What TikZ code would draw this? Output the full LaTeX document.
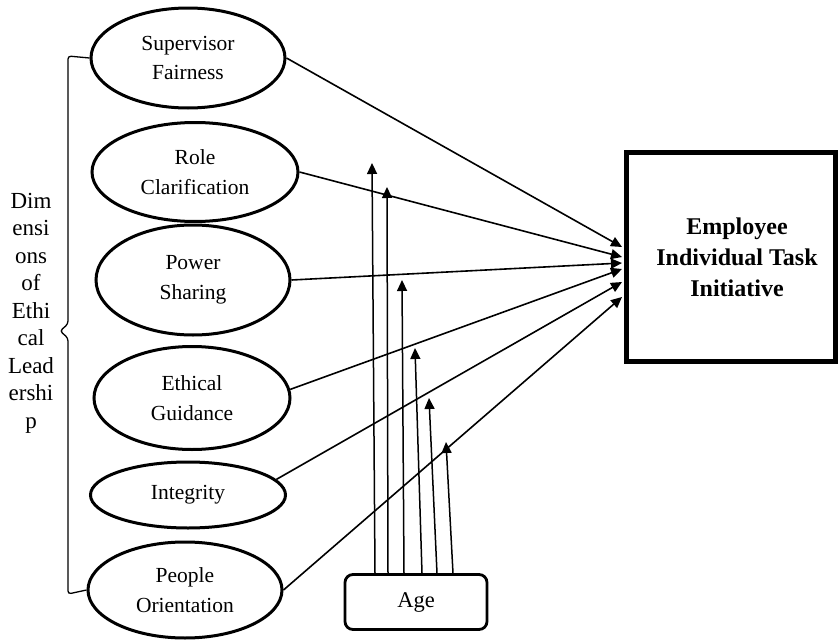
\documentclass[tikz,border=0pt]{standalone}
\usepackage{fontspec}
\setmainfont{Liberation Serif}
\usetikzlibrary{shapes.geometric,arrows.meta}

\begin{document}
\begin{tikzpicture}[x=1pt,y=-1pt,>={Triangle[length=11pt,width=10pt]},
   dimen/.style={draw,ellipse,line width=3pt,inner sep=0pt,align=center,
     font=\fontsize{21.5}{29.5}\selectfont},
   link/.style={->,line width=1.6pt},
   modlink/.style={->,line width=1.5pt}]
   \useasboundingbox (0,0) rectangle (839,640);
   %dimensions
   \node[dimen,minimum width=194pt,minimum height=100pt] (sf) at (188,58) {Supervisor\\Fairness};
   \node[dimen,minimum width=206pt,minimum height=99pt] (rc) at (195,172) {Role\\Clarification};
   \node[dimen,minimum width=194pt,minimum height=110pt] (ps) at (193,280) {Power\\Sharing};
   \node[dimen,minimum width=196pt,minimum height=103pt] (eg) at (192,398) {Ethical\\Guidance};
   \node[dimen,minimum width=195pt,minimum height=66pt] (in) at (188,495) {Integrity};
   \node[dimen,minimum width=194pt,minimum height=96pt] (po) at (185,590) {People\\Orientation};
   %brace
   \draw[line width=1.3pt,rounded corners=3pt] (sf.west) -- (68,56) -- (68,324) -- (60,331)
      -- (68,338) -- (68,594) -- (po.west);
   \node[align=center,font=\fontsize{23}{27.5}\selectfont] (dimlbl) at (31,313)
      {Dim\\ensi\\ons\\of\\Ethi\\cal\\Lead\\ershi\\p};
   %outcome
   \node[draw,line width=4.5pt,minimum width=209pt,minimum height=209pt] (emp) at (731,257) {};
   \node[align=center,font=\bfseries\fontsize{24}{31}\selectfont] (emptext)
      at ([xshift=6pt]emp.center) {Employee\\Individual Task\\Initiative};
   %age
   \node[draw,line width=2.8pt,rounded corners=8pt,minimum width=142pt,minimum height=55pt,
      font=\fontsize{22.5}{29}\selectfont] (age) at (416,602) {Age};
   %links
   \coordinate (t1) at (622,247);
   \coordinate (t2) at (622,257);
   \coordinate (t3) at (622,263);
   \coordinate (t4) at (622,269);
   \coordinate (t5) at (622,282);
   \coordinate (t6) at (622,297);
   \draw[link] (sf.east) -- (t1);
   \draw[link] (rc.east) -- (t2);
   \draw[link] (ps.east) -- (t3);
   \draw[link] (eg.5) -- (t4);
   \draw[link] (in.10) -- (t5);
   \draw[link] (po.east) -- (t6);
   %moderation
   \coordinate (m1) at (372,163);
   \coordinate (m2) at (387,187);
   \coordinate (m3) at (402,280);
   \coordinate (m4) at (415,348);
   \coordinate (m5) at (429,398);
   \coordinate (m6) at (446,442);
   \draw[modlink] ([xshift=-41pt]age.north) -- (m1);
   \draw[modlink] ([xshift=-28pt]age.north) -- (m2);
   \draw[modlink] ([xshift=-12pt]age.north) -- (m3);
   \draw[modlink] ([xshift=6pt]age.north) -- (m4);
   \draw[modlink] ([xshift=21pt]age.north) -- (m5);
   \draw[modlink] ([xshift=37pt]age.north) -- (m6);
\end{tikzpicture}
\end{document}
